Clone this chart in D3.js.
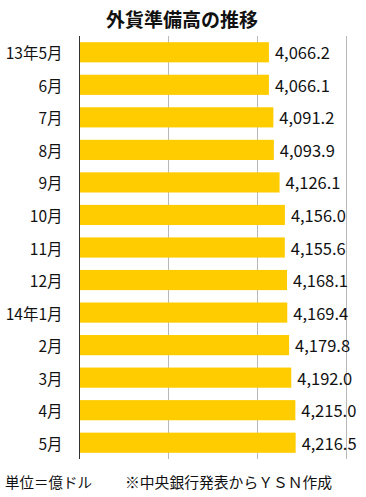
<!DOCTYPE html>
<html><head><meta charset="utf-8">
<script src="https://cdn.jsdelivr.net/npm/d3@7"></script>
<style>
html,body{margin:0;padding:0;background:#fff;}
text{font-family:"Noto Sans CJK JP","Noto Sans",sans-serif;}
</style></head>
<body>
<script>
const categories = ["13年5月","6月","7月","8月","9月","10月","11月","12月","14年1月","2月","3月","4月","5月"];
const values = [4066.2,4066.1,4091.2,4093.9,4126.1,4156.0,4155.6,4168.1,4169.4,4179.8,4192.0,4215.0,4216.5];
const valueLabels = ["4,066.2","4,066.1","4,091.2","4,093.9","4,126.1","4,156.0","4,155.6","4,168.1","4,169.4","4,179.8","4,192.0","4,215.0","4,216.5"];
const xTicks = [3000,3500,4000,4500];
const title = "外貨準備高の推移";
const footLeft = "単位＝億ドル";
const footRight = "※中央銀行発表からＹＳＮ作成";

const W = 366, H = 497;
const svg = d3.select("body").append("svg").attr("width", W).attr("height", H);

const x = d3.scaleLinear().domain([3000,4500]).range([79.5,346]);
const y = d3.scaleBand().domain(categories).range([36,459]).paddingInner(0.38).paddingOuter(0.19);

// gridlines
svg.append("g").selectAll("line").data(xTicks.slice(1)).join("line")
  .attr("x1", d=>Math.round(x(d))+0.5).attr("x2", d=>Math.round(x(d))+0.5)
  .attr("y1", 36).attr("y2", 459)
  .attr("stroke", "#b8b8b8").attr("stroke-width", 1);

// bars
svg.append("g").selectAll("rect").data(values).join("rect")
  .attr("x", x(3000))
  .attr("y", (d,i)=>y(categories[i]))
  .attr("width", d=>x(d)-x(3000))
  .attr("height", y.bandwidth())
  .attr("fill", "#ffcc00");

// axis line
svg.append("line").attr("x1", 79.5).attr("x2", 79.5).attr("y1", 36).attr("y2", 459)
  .attr("stroke", "#333").attr("stroke-width", 1);

// category labels
svg.append("g").selectAll("text").data(categories).join("text")
  .attr("x", 62.5).attr("y", d=>y(d)+y.bandwidth()/2)
  .attr("text-anchor", "end").attr("dominant-baseline", "central")
  .attr("font-size", 15.5).attr("fill", "#111").text(d=>d);

// value labels
svg.append("g").selectAll("text").data(values).join("text")
  .attr("x", d=>x(d)+6).attr("y", (d,i)=>y(categories[i])+y.bandwidth()/2)
  .attr("dominant-baseline", "central")
  .attr("font-size", 16.5).attr("fill", "#111").text((d,i)=>valueLabels[i]);

// title
svg.append("text").attr("x", 182).attr("y", 18).attr("text-anchor","middle")
  .attr("dominant-baseline","central").attr("font-size", 19).attr("font-weight","bold")
  .attr("fill","#111").text(title);

// footer
svg.append("text").attr("x", 5).attr("y", 481).attr("dominant-baseline","central")
  .attr("font-size", 14.5).attr("fill","#111").text(footLeft);
svg.append("text").attr("x", 125).attr("y", 481).attr("dominant-baseline","central")
  .attr("font-size", 14.8).attr("fill","#111").text(footRight);
</script>
</body></html>
